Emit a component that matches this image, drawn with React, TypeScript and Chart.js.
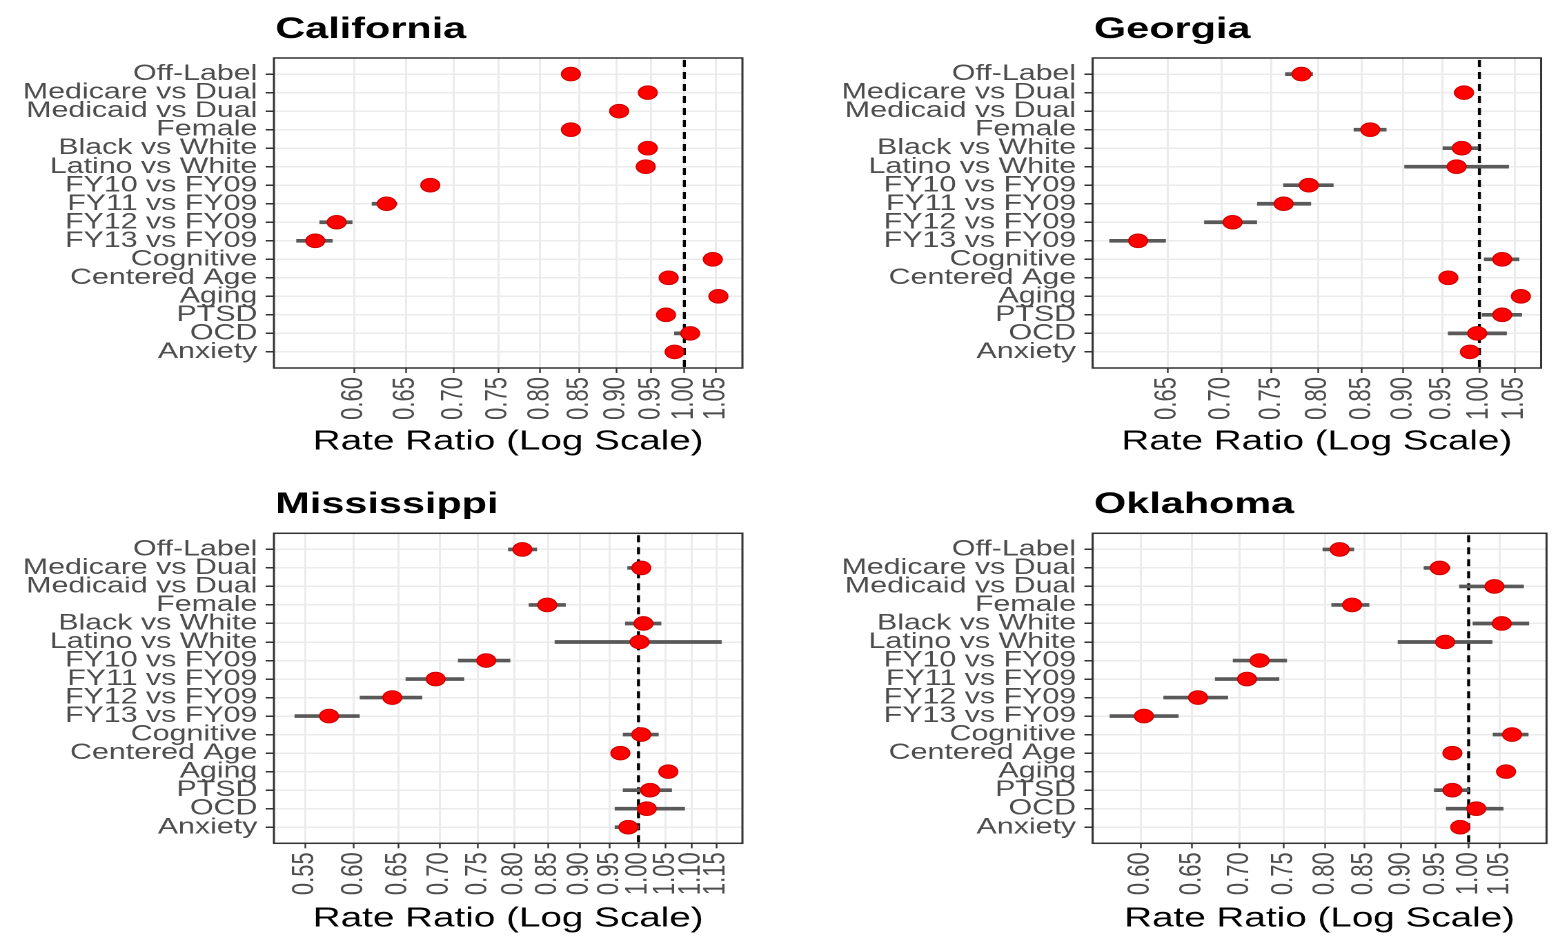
import React, { useEffect, useRef } from 'react';
import { Chart, registerables } from 'chart.js';

Chart.register(...registerables);

// ---------- data ----------
const categories = [
  'Off-Label',
  'Medicare vs Dual',
  'Medicaid vs Dual',
  'Female',
  'Black vs White',
  'Latino vs White',
  'FY10 vs FY09',
  'FY11 vs FY09',
  'FY12 vs FY09',
  'FY13 vs FY09',
  'Cognitive',
  'Centered Age',
  'Aging',
  'PTSD',
  'OCD',
  'Anxiety',
];

const caEstimate = [0.839, 0.945, 0.904, 0.839, 0.945, 0.942, 0.675, 0.631, 0.584, 0.565, 1.045, 0.976, 1.054, 0.972, 1.009, 0.985];
const caLower = [0.830, 0.937, 0.896, 0.832, 0.937, 0.932, 0.667, 0.617, 0.569, 0.549, 1.036, 0.970, 1.045, 0.962, 0.985, 0.975];
const caUpper = [0.848, 0.953, 0.912, 0.846, 0.953, 0.952, 0.683, 0.641, 0.598, 0.580, 1.054, 0.982, 1.063, 0.982, 1.023, 0.995];

const gaEstimate = [0.782, 0.979, null, 0.860, 0.976, 0.969, 0.790, 0.763, 0.711, 0.624, 1.032, 0.958, 1.059, 1.032, 0.997, 0.987];
const gaLower = [0.765, 0.966, null, 0.841, 0.951, 0.902, 0.763, 0.736, 0.684, 0.600, 1.007, 0.950, 1.050, 1.004, 0.958, 0.978];
const gaUpper = [0.794, 0.990, null, 0.879, 0.998, 1.041, 0.817, 0.792, 0.735, 0.648, 1.056, 0.966, 1.068, 1.060, 1.038, 0.996];

const msEstimate = [0.812, 1.005, null, 0.849, 1.009, 1.002, 0.761, 0.695, 0.643, 0.574, 1.005, 0.968, 1.055, 1.021, 1.015, 0.982];
const msLower = [0.792, 0.981, null, 0.822, 0.977, 0.861, 0.724, 0.659, 0.607, 0.540, 0.973, 0.958, 1.045, 0.973, 0.959, 0.959];
const msUpper = [0.833, 1.021, null, 0.877, 1.041, 1.160, 0.794, 0.731, 0.678, 0.606, 1.036, 0.978, 1.065, 1.061, 1.086, 1.000];

const okEstimate = [0.818, 0.956, 1.041, 0.834, 1.053, 0.964, 0.722, 0.708, 0.656, 0.603, 1.070, 0.975, 1.060, 0.975, 1.012, 0.987];
const okLower = [0.797, 0.933, 0.986, 0.808, 1.007, 0.896, 0.693, 0.674, 0.622, 0.572, 1.039, 0.965, 1.050, 0.948, 0.966, 0.977];
const okUpper = [0.836, 0.971, 1.089, 0.856, 1.098, 1.037, 0.753, 0.744, 0.687, 0.636, 1.097, 0.985, 1.070, 1.000, 1.055, 0.997];

const caTicks = [0.60, 0.65, 0.70, 0.75, 0.80, 0.85, 0.90, 0.95, 1.00, 1.05];
const gaTicks = [0.65, 0.70, 0.75, 0.80, 0.85, 0.90, 0.95, 1.00, 1.05];
const msTicks = [0.55, 0.60, 0.65, 0.70, 0.75, 0.80, 0.85, 0.90, 0.95, 1.00, 1.05, 1.10, 1.15];
const okTicks = [0.60, 0.65, 0.70, 0.75, 0.80, 0.85, 0.90, 0.95, 1.00, 1.05];

const xAxisTitle = 'Rate Ratio (Log Scale)';
const referenceValue = 1;

// ---------- layout ----------
const S = 1.38; // horizontal stretch of the original figure

const FONT = '"Liberation Sans", Arial, sans-serif';

const decorations = {
  id: 'decorations',
  beforeDatasetsDraw(chart: any) {
    const { ctx, chartArea: a, scales } = chart;
    const x1 = scales.x.getPixelForValue(referenceValue);
    ctx.save();
    ctx.strokeStyle = '#000000';
    ctx.lineWidth = 2.2;
    ctx.setLineDash([7, 5]);
    ctx.beginPath();
    ctx.moveTo(x1, a.top + 2);
    ctx.lineTo(x1, a.bottom);
    ctx.stroke();
    ctx.restore();
  },
  afterDatasetsDraw(chart: any) {
    const { ctx, chartArea: a } = chart;
    ctx.save();
    ctx.strokeStyle = '#333333';
    ctx.lineWidth = 1.5;
    ctx.strokeRect(a.left, a.top, a.right - a.left, a.bottom - a.top);
    ctx.restore();
  },
  afterDraw(chart: any, _args: any, opts: any) {
    const { ctx, chartArea: a } = chart;
    ctx.save();
    ctx.fillStyle = '#000000';
    ctx.font = `bold 30px ${FONT}`;
    ctx.textAlign = 'left';
    ctx.textBaseline = 'alphabetic';
    ctx.fillText(opts.title, a.left + 1, opts.titleY);
    ctx.restore();
  },
};

type PanelProps = {
  title: string;
  est: (number | null)[];
  lo: (number | null)[];
  hi: (number | null)[];
  ticks: number[];
  xMin: number;
  xMax: number;
  left: number;
  top: number;
  wu: number;
  h: number;
  plotLeftU: number;
  padRightU: number;
  padTop: number;
  axisH: number;
  titlePadBottom: number;
};

function Panel(p: PanelProps) {
  const ref = useRef<HTMLCanvasElement | null>(null);

  useEffect(() => {
    if (!ref.current) return;
    const points: any[] = [];
    const bars: any[] = [];
    categories.forEach((_, i) => {
      if (p.est[i] != null) points.push({ x: p.est[i], y: i });
      if (p.lo[i] != null && p.hi[i] != null) bars.push({ x: [p.lo[i], p.hi[i]], y: i });
    });

    const chart = new Chart(ref.current, {
      type: 'bar',
      data: {
        datasets: [
          {
            type: 'scatter',
            data: points,
            pointRadius: 6.8,
            pointHoverRadius: 6.8,
            backgroundColor: '#ff0000',
            borderColor: '#d00000',
            borderWidth: 1,
            order: 0,
          } as any,
          {
            type: 'bar',
            data: bars,
            backgroundColor: '#595959',
            borderWidth: 0,
            barThickness: 3,
            order: 1,
          } as any,
        ],
      },
      options: {
        indexAxis: 'y',
        responsive: false,
        animation: false,
        devicePixelRatio: 2,
        layout: { padding: { top: p.padTop, right: p.padRightU, bottom: 0, left: 0 } },
        plugins: {
          legend: { display: false },
          tooltip: { enabled: false },
          decorations: { title: p.title, titleY: 38 },
        } as any,
        scales: {
          x: {
            type: 'logarithmic',
            position: 'bottom',
            offset: false,
            min: p.xMin,
            max: p.xMax,
            afterBuildTicks: (s: any) => {
              s.ticks = p.ticks.map((v) => ({ value: v }));
            },
            afterFit: (s: any) => {
              s.height = p.axisH;
            },
            ticks: {
              autoSkip: false,
              minRotation: 90,
              maxRotation: 90,
              padding: 4,
              color: '#4d4d4d',
              font: { family: FONT, size: 22 },
              callback: (v: any) => Number(v).toFixed(2),
            },
            grid: {
              offset: false,
              color: '#ebebeb',
              lineWidth: 1.5,
              tickColor: '#333333',
              tickLength: 5,
              tickWidth: 1.2,
            },
            border: { display: false },
            title: {
              display: true,
              text: xAxisTitle,
              color: '#000000',
              font: { family: FONT, size: 28 },
              padding: { top: 0, bottom: p.titlePadBottom },
            },
          } as any,
          y: {
            type: 'linear',
            reverse: true,
            offset: false,
            min: -0.87,
            max: 15.87,
            afterBuildTicks: (s: any) => {
              s.ticks = categories.map((_, i) => ({ value: i }));
            },
            afterFit: (s: any) => {
              s.width = p.plotLeftU;
            },
            ticks: {
              autoSkip: false,
              padding: 6,
              color: '#4d4d4d',
              font: { family: FONT, size: 22 },
              callback: (v: any) => categories[v],
            },
            grid: {
              offset: false,
              color: '#ebebeb',
              lineWidth: 1.5,
              tickColor: '#333333',
              tickLength: 6,
              tickWidth: 1.5,
            },
            border: { display: false },
          } as any,
        },
      },
      plugins: [decorations as any],
    });
    return () => chart.destroy();
  }, []);

  return (
    <div
      style={{
        position: 'absolute',
        left: p.left,
        top: p.top,
        width: p.wu,
        height: p.h,
        transform: `scaleX(${S})`,
        transformOrigin: '0 0',
      }}
    >
      <canvas ref={ref} width={p.wu} height={p.h} style={{ width: p.wu, height: p.h, display: 'block' }} />
    </div>
  );
}

export default function App() {
  const leftCol = { left: 0, wu: 560, plotLeftU: 198.5, padRightU: 22 };
  const rightCol = { left: 790, wu: 556, plotLeftU: 219.3, padRightU: 2.4 };
  const topRow = { top: 0, h: 460, padTop: 58, axisH: 92, titlePadBottom: 1.2 };
  const bottomRow = { top: 475, h: 461, padTop: 58.3, axisH: 92.7, titlePadBottom: 0.3 };

  return (
    <div
      style={{
        position: 'fixed',
        left: 0,
        top: 0,
        width: 1556,
        height: 936,
        overflow: 'hidden',
        background: '#ffffff',
      }}
    >
      <Panel title="California" est={caEstimate} lo={caLower} hi={caUpper} ticks={caTicks} xMin={0.534} xMax={1.094} {...leftCol} {...topRow} />
      <Panel title="Georgia" est={gaEstimate} lo={gaLower} hi={gaUpper} ticks={gaTicks} xMin={0.586} xMax={1.089} {...rightCol} {...topRow} />
      <Panel title="Mississippi" est={msEstimate} lo={msLower} hi={msUpper} ticks={msTicks} xMin={0.522} xMax={1.205} {...leftCol} {...bottomRow} />
      <Panel title="Oklahoma" est={okEstimate} lo={okLower} hi={okUpper} ticks={okTicks} xMin={0.5567} xMax={1.129} {...rightCol} {...bottomRow} />
    </div>
  );
}
